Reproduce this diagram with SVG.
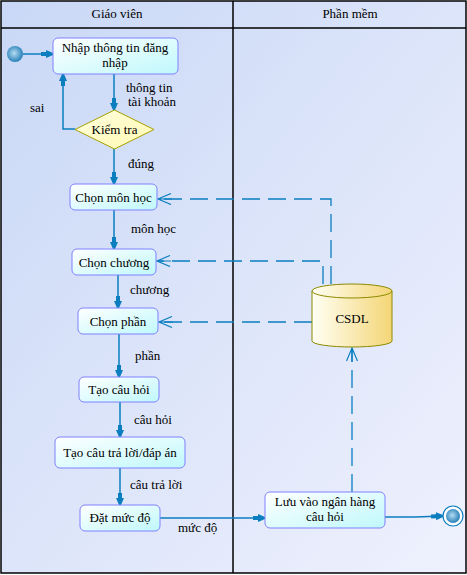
<svg xmlns="http://www.w3.org/2000/svg" width="467" height="575" viewBox="0 0 467 575">
<style>
text{font-family:"Times New Roman","Liberation Serif","DejaVu Serif",serif;font-size:13px;fill:#000}
.c{text-anchor:middle}
.box{fill:url(#gBox);stroke:#8080ff;stroke-width:1}
.flow{fill:none;stroke:#0b7ec0;stroke-width:1.5}
.dash{fill:none;stroke:#0b7ec0;stroke-width:1.3;stroke-dasharray:18 8}
.frame{fill:none;stroke:#000;stroke-width:1.5}
</style>
<defs>
<linearGradient id="gBg" x1="0" y1="0" x2="1" y2="1">
<stop offset="0" stop-color="#c9d8f6"/><stop offset="1" stop-color="#eff1fd"/>
</linearGradient>
<linearGradient id="gBox" x1="0" y1="0" x2="1" y2="1">
<stop offset="0" stop-color="#ffffff"/><stop offset="1" stop-color="#bff8fb"/>
</linearGradient>
<linearGradient id="gCyl" x1="0" y1="0" x2="1" y2="0">
<stop offset="0" stop-color="#fffff4"/><stop offset="1" stop-color="#f4d677"/>
</linearGradient>
<linearGradient id="gDia" x1="0" y1="0" x2="1" y2="1">
<stop offset="0" stop-color="#ffffe0"/><stop offset="1" stop-color="#fff8b0"/>
</linearGradient>
<radialGradient id="gNode" cx="0.45" cy="0.45" r="0.6">
<stop offset="0" stop-color="#b6dcf2"/><stop offset="1" stop-color="#1a78b4"/>
</radialGradient>
<marker id="aS" viewBox="0 0 12 8" refX="12" refY="4" markerWidth="12" markerHeight="8" markerUnits="userSpaceOnUse" orient="auto">
<path d="M0,2 L5,2 L5,0 L12,3 L12,5 L5,8 L5,6 L0,6 Z" fill="#0b7ec0"/>
</marker>
<marker id="aO" viewBox="0 0 16 12" refX="14" refY="6" markerWidth="16" markerHeight="12" markerUnits="userSpaceOnUse" orient="auto">
<path d="M1,0.5 L14,6 L1,11.5 M0,6 L14,6" fill="none" stroke="#0b7ec0" stroke-width="1.2"/>
</marker>
</defs>

<g id="swimlanes">
<rect x="1" y="1" width="465" height="572" fill="url(#gBg)"/>
<rect x="1" y="1" width="465" height="572" class="frame"/>
<line x1="1" y1="28" x2="466" y2="28" class="frame"/>
<line x1="233" y1="1" x2="233" y2="573" class="frame"/>
<text x="117" y="18" class="c">Giáo viên</text>
<text x="350" y="18" class="c">Phần mềm</text>
</g>

<g id="connectors">
<line x1="23" y1="54" x2="53" y2="54" class="flow" marker-end="url(#aS)"/>
<line x1="114" y1="74" x2="114" y2="110" class="flow" marker-end="url(#aS)"/>
<polyline points="75,129 63,129 63,74" class="flow" marker-end="url(#aS)"/>
<line x1="114" y1="149" x2="114" y2="184" class="flow" marker-end="url(#aS)"/>
<line x1="114" y1="210" x2="114" y2="249" class="flow" marker-end="url(#aS)"/>
<line x1="118" y1="275" x2="118" y2="308" class="flow" marker-end="url(#aS)"/>
<line x1="119" y1="334" x2="119" y2="377" class="flow" marker-end="url(#aS)"/>
<line x1="120" y1="402" x2="120" y2="437" class="flow" marker-end="url(#aS)"/>
<line x1="120" y1="468" x2="120" y2="505" class="flow" marker-end="url(#aS)"/>
<line x1="160" y1="518" x2="265" y2="518" class="flow" marker-end="url(#aS)"/>
<polyline points="385,517 415,517 443,516" class="flow" marker-end="url(#aS)"/>
<polyline points="331,284 331,199 158,199" class="dash" marker-end="url(#aO)"/>
<polyline points="323,284 323,261 157,261" class="dash" marker-end="url(#aO)"/>
<line x1="312" y1="322" x2="159" y2="322" class="dash" marker-end="url(#aO)"/>
<line x1="352" y1="492" x2="352" y2="348" class="dash" marker-end="url(#aO)"/>
<text x="126" y="92">thông tin</text>
<text x="128" y="106">tài khoản</text>
<text x="30" y="112">sai</text>
<text x="128" y="168">đúng</text>
<text x="131" y="233">môn học</text>
<text x="130" y="294">chương</text>
<text x="135" y="360">phần</text>
<text x="134" y="424">câu hỏi</text>
<text x="130" y="489">câu trả lời</text>
<text x="178" y="532">mức độ</text>
</g>

<g id="start">
<circle cx="15" cy="54" r="8" fill="url(#gNode)"/>
</g>

<g id="nhap">
<rect x="53" y="38" width="125" height="36" rx="5" class="box"/>
<text x="115" y="52" class="c">Nhập thông tin đăng</text>
<text x="115" y="67" class="c">nhập</text>
</g>

<g id="kiemtra">
<polygon points="114.5,110 154,129.5 114.5,149 75,129.5" fill="url(#gDia)" stroke="#a6a000" stroke-width="1"/>
<text x="114.5" y="134" class="c">Kiểm tra</text>
</g>

<g id="chonmonhoc">
<rect x="70" y="184" width="87" height="26" rx="5" class="box"/>
<text x="113.5" y="201.5" class="c">Chọn môn học</text>
</g>

<g id="chonchuong">
<rect x="72" y="249" width="84" height="26" rx="5" class="box"/>
<text x="114" y="266.5" class="c">Chọn chương</text>
</g>

<g id="chonphan">
<rect x="78" y="308" width="80" height="26" rx="5" class="box"/>
<text x="118" y="325.5" class="c">Chọn phần</text>
</g>

<g id="taocauhoi">
<rect x="79" y="377" width="80" height="25" rx="5" class="box"/>
<text x="119" y="394" class="c">Tạo câu hỏi</text>
</g>

<g id="taocautraloi">
<rect x="55" y="437" width="130" height="31" rx="5" class="box"/>
<text x="120" y="457" class="c">Tạo câu trả lời/đáp án</text>
</g>

<g id="datmucdo">
<rect x="80" y="505" width="80" height="26" rx="5" class="box"/>
<text x="120" y="522" class="c">Đặt mức độ</text>
</g>

<g id="luu">
<rect x="265" y="492" width="120" height="36" rx="5" class="box"/>
<text x="325" y="506" class="c">Lưu vào ngân hàng</text>
<text x="325" y="521" class="c">câu hỏi</text>
</g>

<g id="csdl">
<path d="M312,291 L312,341 A40,6 0 0 0 392,341 L392,291 Z" fill="url(#gCyl)" stroke="#8c8a00" stroke-width="1"/>
<ellipse cx="352" cy="291" rx="40" ry="7" fill="url(#gCyl)" stroke="#8c8a00" stroke-width="1"/>
<text x="352" y="323" class="c">CSDL</text>
</g>

<g id="end">
<circle cx="453" cy="516" r="10" fill="#fff" stroke="#0b7ec0" stroke-width="1.2"/>
<circle cx="453" cy="516" r="7" fill="url(#gNode)"/>
</g>
</svg>
